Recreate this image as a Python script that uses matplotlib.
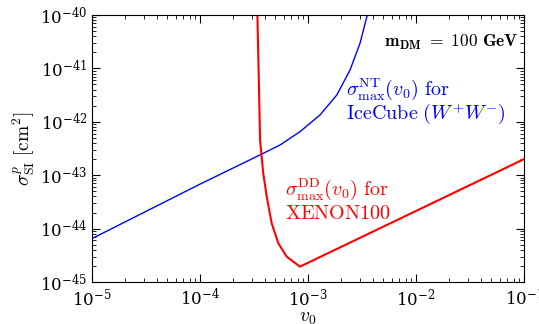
import matplotlib
matplotlib.use("Agg")
import matplotlib.pyplot as plt
import numpy as np
from matplotlib.ticker import LogLocator, NullFormatter

plt.rcParams['mathtext.fontset'] = 'cm'
plt.rcParams['font.family'] = 'serif'
plt.rcParams['font.serif'] = ['DejaVu Serif']
plt.rcParams['axes.formatter.use_mathtext'] = True

# IceCube (W+W-) upper bound
ic_v0 = [1.0e-5, 1.0e-4, 3.6e-4, 5.51e-4, 8.43e-4, 1.29e-3, 1.85e-3, 2.45e-3, 3.03e-3, 3.54e-3]
ic_sigma = [6.5e-45, 6.8e-44, 2.4e-43, 3.68e-43, 6.53e-43, 1.34e-42, 3.18e-42, 9.33e-42, 2.95e-41, 1.0e-40]

# XENON100 direct detection bound
xe_v0 = [3.40e-4, 3.52e-4, 3.60e-4, 3.85e-4, 4.15e-4, 4.61e-4, 5.31e-4, 6.35e-4, 8.43e-4, 1.0e-1]
xe_sigma = [1.0e-40, 4.0e-42, 4.56e-43, 1.09e-43, 3.95e-44, 1.26e-44, 5.31e-45, 2.98e-45, 1.94e-45, 2.0e-43]

W, H = 539, 324
fig = plt.figure(figsize=(W / 100, H / 100), dpi=100)
ax = fig.add_subplot(111)
fig.subplots_adjust(left=92/W, right=524/W, top=1-15/H, bottom=1-282/H)

ax.plot(ic_v0, ic_sigma, color='#0000ff', lw=1.0)
ax.plot(xe_v0, xe_sigma, color='#ff0000', lw=1.5)

ax.set_xscale('log')
ax.set_yscale('log')
ax.set_xlim(1e-5, 1e-1)
ax.set_ylim(1e-45, 1e-40)

ax.xaxis.set_major_locator(LogLocator(base=10, numticks=10))
ax.yaxis.set_major_locator(LogLocator(base=10, numticks=10))
ax.xaxis.set_minor_locator(LogLocator(base=10, subs=np.arange(2, 10), numticks=20))
ax.yaxis.set_minor_locator(LogLocator(base=10, subs=np.arange(2, 10), numticks=20))
ax.xaxis.set_minor_formatter(NullFormatter())
ax.yaxis.set_minor_formatter(NullFormatter())
ax.tick_params(which='both', direction='in', top=True, right=True, labelsize=12)
ax.tick_params(which='major', length=6)
ax.tick_params(which='minor', length=3)
ax.tick_params(axis='x', pad=4)

ax.set_xlabel(r'$v_0$', fontsize=14, labelpad=0)
ax.set_ylabel(r'$\sigma^{p}_{\rm SI}\ [{\rm cm}^2]$', fontsize=14, labelpad=2)


def put(x, y, s, **kw):
    # x, y in picture pixels from the top-left corner, y at the baseline
    fig.text(x / W, 1 - y / H, s, va='baseline', **kw)


put(519, 47, r'$\mathbf{m_{DM}\ =\ 100\ GeV}$', ha='right', fontsize=12.5)
put(346, 95, r'$\sigma^{\rm NT}_{\rm max}(v_0)\ {\rm for}$', ha='left', fontsize=14.5, color='#0000ff')
put(346, 119, r'${\rm IceCube}\ (W^{+}W^{-})$', ha='left', fontsize=14.5, color='#0000ff')
put(285, 195, r'$\sigma^{\rm DD}_{\rm max}(v_0)\ {\rm for}$', ha='left', fontsize=14.5, color='#ff0000')
put(285, 219, r'${\rm XENON100}$', ha='left', fontsize=14.5, color='#ff0000')

fig.savefig('out.png', dpi=100)
